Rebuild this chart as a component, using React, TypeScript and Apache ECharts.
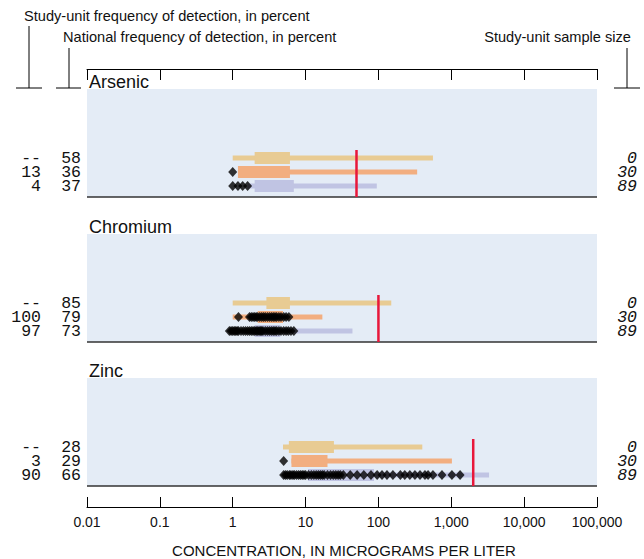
import React, { useEffect, useRef } from 'react';
import * as echarts from 'echarts';

// ---------- data ----------
const TICK_LABELS = ['0.01', '0.1', '1', '10', '100', '1,000', '10,000', '100,000'];
const ELEMENTS = ['Arsenic', 'Chromium', 'Zinc'];
const STUDY_FREQ = [['--', '13', '4'], ['--', '100', '97'], ['--', '3', '90']];
const NATIONAL_FREQ = [['58', '36', '37'], ['85', '79', '73'], ['28', '29', '66']];
const SAMPLE_SIZE = [['0', '30', '89'], ['0', '30', '89'], ['0', '30', '89']];

// whisker [min, max] per row (tan, orange, lavender)
const ARSENIC_RANGE = [[1.0, 560], [1.18, 340], [1.6, 95]];
const CHROMIUM_RANGE = [[1.0, 150], [1.0, 17], [0.9, 44]];
const ZINC_RANGE = [[4.9, 400], [6.4, 1020], [5.0, 3300]];
// box [low, high] per row
const ARSENIC_BOX = [[2.0, 6.1], [1.18, 6.1], [2.0, 6.9]];
const CHROMIUM_BOX = [[2.9, 6.1], [2.2, 4.9], [2.0, 4.5]];
const ZINC_BOX = [[5.9, 24.5], [6.4, 20], [10.8, 87]];

const THRESHOLDS = [50, 100, 2000];

// detections (diamonds) per row
const ARSENIC_DETECTS = [[], [1.0], [1.0, 1.18, 1.37, 1.6]];
const CHROMIUM_DETECTS = [
  [],
  [1.2, 1.7, 1.8, 1.9, 2.0, 2.1, 2.2, 2.35, 2.5, 2.65, 2.8, 3.0, 3.2, 3.4, 3.6, 3.8, 4.0, 4.3, 4.6, 5.0, 5.4, 5.9],
  [0.9, 0.95, 1.0, 1.05, 1.1, 1.15, 1.2, 1.3, 1.4, 1.5, 1.6, 1.7, 1.8, 1.9, 2.0, 2.1, 2.2, 2.3, 2.4, 2.5, 2.6, 2.8,
    3.0, 3.2, 3.4, 3.6, 3.8, 4.0, 4.3, 4.6, 5.0, 5.4, 5.8, 6.3, 6.9],
];
const ZINC_DETECTS = [
  [],
  [5.0],
  [5.0, 5.3, 5.6, 6.0, 6.3, 6.7, 7.0, 7.5, 8.0, 8.5, 9.0, 9.5, 10, 11, 12, 13, 14, 15, 16, 17, 18, 20, 22, 24, 26, 28,
    30, 33, 41, 51, 63, 79, 96, 112, 131, 158, 200, 230, 270, 317, 372, 435, 480, 560, 745, 1020, 1320],
];

const RANGES = [ARSENIC_RANGE, CHROMIUM_RANGE, ZINC_RANGE];
const BOXES = [ARSENIC_BOX, CHROMIUM_BOX, ZINC_BOX];
const DETECTS = [ARSENIC_DETECTS, CHROMIUM_DETECTS, ZINC_DETECTS];

// ---------- styles / layout ----------
const ROW_COLORS = ['#e8cb93', '#f2ae80', '#c0c4e3'];
const BG = '#e4ecf6';
const RED = '#e8173a';
const LEFT = 87;
const RIGHT = 597;
const PANEL_BOTTOMS = [197, 342, 486];
const MONO = '"Liberation Mono", "DejaVu Sans Mono", monospace';
const MONO_SIZE = 16.5;
const SANS = '"Liberation Sans", Arial, Helvetica, sans-serif';

function buildOption() {
  const grids: any[] = [];
  const xAxes: any[] = [];
  const yAxes: any[] = [];
  const series: any[] = [];
  const graphics: any[] = [];

  ELEMENTS.forEach((name, i) => {
    const bottom = PANEL_BOTTOMS[i];
    grids.push({ left: LEFT, width: RIGHT - LEFT, top: bottom - 46, height: 42 });
    xAxes.push({ type: 'log', gridIndex: i, min: 0.01, max: 100000, logBase: 10, show: false });
    const catBase = {
      type: 'category',
      gridIndex: i,
      inverse: true,
      axisLine: { show: false },
      axisTick: { show: false },
      splitLine: { show: false },
    };
    const lbl = { interval: 0, fontFamily: MONO, fontSize: MONO_SIZE, lineHeight: 14, color: '#111' };
    yAxes.push({ ...catBase, position: 'left', data: NATIONAL_FREQ[i], axisLabel: { ...lbl, margin: 6 } });
    yAxes.push({ ...catBase, position: 'left', offset: 40, data: STUDY_FREQ[i], axisLabel: { ...lbl, margin: 6 } });
    yAxes.push({
      ...catBase,
      position: 'right',
      data: SAMPLE_SIZE[i],
      axisLabel: { ...lbl, margin: 40, align: 'right', fontStyle: 'italic' },
    });
    const yIdx = i * 3;

    // boxes
    const boxData = RANGES[i].map((r, row) => [row, r[0], r[1], BOXES[i][row][0], BOXES[i][row][1]]);
    series.push({
      type: 'custom',
      xAxisIndex: i,
      yAxisIndex: yIdx,
      z: 2,
      data: boxData,
      encode: { x: [1, 2, 3, 4], y: 0 },
      renderItem: (params: any, api: any) => {
        const row = api.value(0);
        const w1 = api.coord([api.value(1), row]);
        const w2 = api.coord([api.value(2), row]);
        const b1 = api.coord([api.value(3), row]);
        const b2 = api.coord([api.value(4), row]);
        const fill = ROW_COLORS[row];
        return {
          type: 'group',
          children: [
            { type: 'rect', shape: { x: w1[0], y: w1[1] - 2.5, width: w2[0] - w1[0], height: 5 }, style: { fill } },
            { type: 'rect', shape: { x: b1[0], y: b1[1] - 6, width: b2[0] - b1[0], height: 12 }, style: { fill } },
          ],
        };
      },
    });

    // threshold line
    series.push({
      type: 'custom',
      xAxisIndex: i,
      yAxisIndex: yIdx,
      z: 3,
      data: [[THRESHOLDS[i], 0]],
      encode: { x: 0, y: 1 },
      renderItem: (params: any, api: any) => {
        const v = api.value(0);
        const top = api.coord([v, 0]);
        const bot = api.coord([v, 2]);
        return {
          type: 'line',
          shape: { x1: top[0], y1: top[1] - 8, x2: top[0], y2: bot[1] + 11 },
          style: { stroke: RED, lineWidth: 2.5 },
        };
      },
    });

    // detections
    const pts: any[] = [];
    DETECTS[i].forEach((arr, row) => arr.forEach((v) => pts.push([v, row])));
    series.push({
      type: 'scatter',
      xAxisIndex: i,
      yAxisIndex: yIdx,
      z: 4,
      symbol: 'diamond',
      symbolSize: [9, 10],
      itemStyle: { color: '#000' },
      data: pts,
    });

    // panel background, bottom line, title
    graphics.push({
      type: 'rect',
      z: -10,
      shape: { x: LEFT, y: bottom - 108, width: RIGHT - LEFT, height: 108 },
      style: { fill: BG },
    });
    graphics.push({
      type: 'line',
      z: -5,
      shape: { x1: LEFT, y1: bottom, x2: RIGHT, y2: bottom },
      style: { stroke: '#333', lineWidth: 1.6 },
    });
    graphics.push({
      type: 'text',
      x: LEFT + 2,
      y: bottom - 115,
      style: { text: name, fontFamily: SANS, fontSize: 18, fill: '#111', align: 'left', verticalAlign: 'middle' },
    });
  });

  // top axis
  grids.push({ left: LEFT, width: RIGHT - LEFT, top: 69, height: 11 });
  xAxes.push({
    type: 'log',
    gridIndex: 3,
    position: 'top',
    min: 0.01,
    max: 100000,
    logBase: 10,
    axisLine: { show: true, onZero: false, lineStyle: { color: '#000', width: 1 } },
    axisTick: { show: true, inside: true, length: 11, lineStyle: { color: '#000', width: 1 } },
    axisLabel: { show: false },
    splitLine: { show: false },
  });
  yAxes.push({ type: 'category', gridIndex: 3, data: [''], show: false });

  // bottom axis
  grids.push({ left: LEFT, width: RIGHT - LEFT, top: 497, height: 11 });
  xAxes.push({
    type: 'log',
    gridIndex: 4,
    position: 'bottom',
    min: 0.01,
    max: 100000,
    logBase: 10,
    axisLine: { show: true, onZero: false, lineStyle: { color: '#000', width: 1 } },
    axisTick: { show: true, inside: true, length: 10, lineStyle: { color: '#000', width: 1 } },
    axisLabel: {
      margin: 8,
      fontFamily: SANS,
      fontSize: 14,
      color: '#111',
      formatter: (v: number) => TICK_LABELS[Math.round(Math.log10(v)) + 2] ?? '',
    },
    splitLine: { show: false },
    name: 'CONCENTRATION, IN MICROGRAMS PER LITER',
    nameLocation: 'middle',
    nameGap: 36,
    nameTextStyle: { fontFamily: SANS, fontSize: 15, color: '#111', padding: [0, 0, 0, 4] },
  });
  yAxes.push({ type: 'category', gridIndex: 4, data: [''], show: false });

  // header labels & brackets
  const hdr = (text: string, x: number, y: number, align: string) => ({
    type: 'text',
    x,
    y,
    style: { text, fontFamily: SANS, fontSize: 14.6, fill: '#111', align, verticalAlign: 'middle' },
  });
  graphics.push(hdr('Study-unit frequency of detection, in percent', 24, 16, 'left'));
  graphics.push(hdr('National frequency of detection, in percent', 63, 37, 'left'));
  graphics.push(hdr('Study-unit sample size', 631, 37, 'right'));
  const ln = (x1: number, y1: number, x2: number, y2: number) => ({
    type: 'line',
    shape: { x1, y1, x2, y2 },
    style: { stroke: '#000', lineWidth: 1 },
  });
  graphics.push(ln(29, 26, 29, 88), ln(16, 88, 42, 88));
  graphics.push(ln(69, 48, 69, 88), ln(56, 88, 81, 88));
  graphics.push(ln(627, 48, 627, 88), ln(614, 88, 640, 88));

  return {
    animation: false,
    backgroundColor: '#fff',
    grid: grids,
    xAxis: xAxes,
    yAxis: yAxes,
    series,
    graphic: { elements: graphics },
  };
}

export default function App() {
  const ref = useRef<HTMLDivElement>(null);
  useEffect(() => {
    const chart = echarts.init(ref.current as HTMLDivElement, null, { renderer: 'svg' });
    chart.setOption(buildOption() as any);
    return () => chart.dispose();
  }, []);
  return <div ref={ref} style={{ position: 'absolute', left: 0, top: 0, width: 644, height: 559 }} />;
}
